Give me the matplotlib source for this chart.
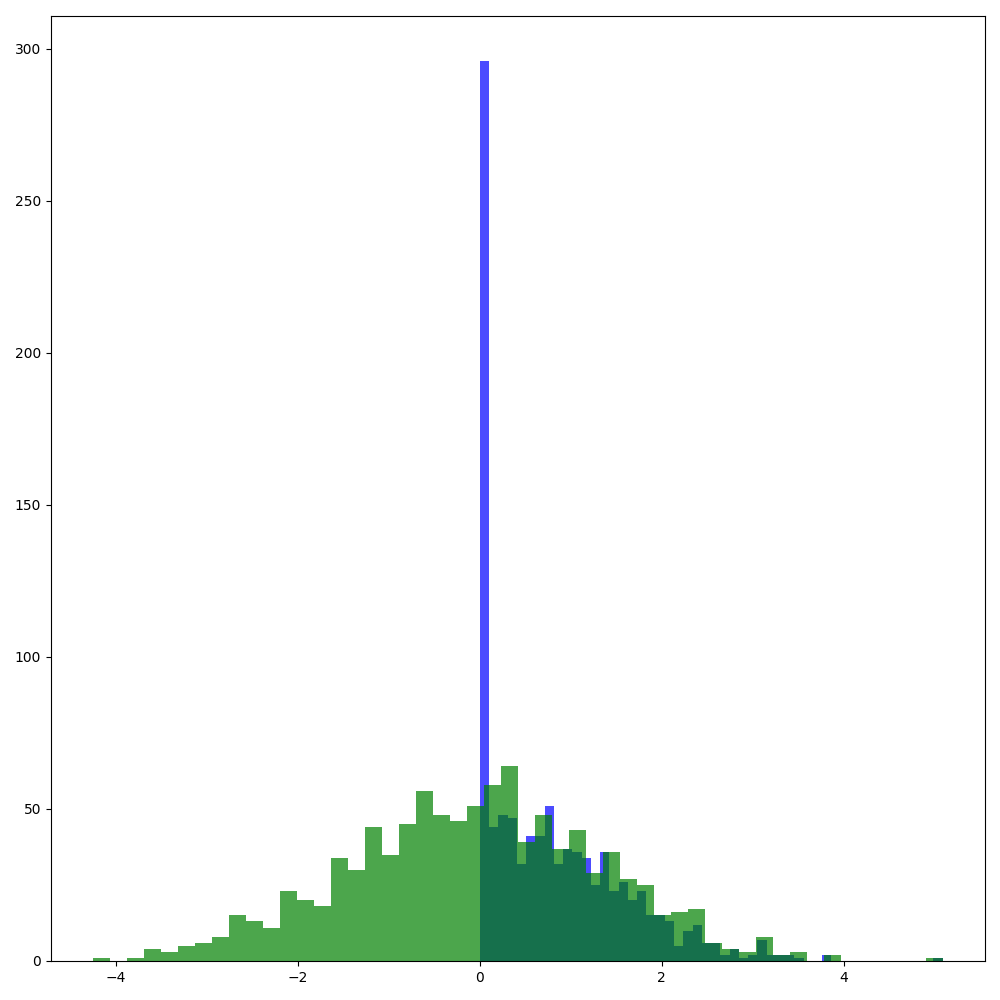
import matplotlib
matplotlib.use("Agg")
import matplotlib.pyplot as plt
import numpy as np

# bin counts (50 bins each)
green_lo, green_hi = -4.245, 5.085
green_counts = [1, 0, 1, 4, 3, 5, 6, 8, 15, 13,
                11, 23, 20, 18, 34, 30, 44, 35, 45, 56,
                48, 46, 51, 58, 64, 39, 48, 37, 43, 29,
                36, 27, 25, 15, 16, 17, 6, 4, 3, 8,
                2, 3, 0, 2, 0, 0, 0, 0, 0, 1]

blue_lo, blue_hi = 0.0, 5.085
blue_counts = [296, 44, 48, 47, 32, 41, 41, 51, 32, 37,
               36, 34, 25, 36, 23, 26, 20, 23, 15, 15,
               13, 5, 10, 12, 6, 6, 2, 4, 1, 2,
               7, 2, 2, 2, 1, 0, 0, 2, 0, 0,
               0, 0, 0, 0, 0, 0, 0, 0, 0, 1]

green_edges = np.linspace(green_lo, green_hi, len(green_counts) + 1)
blue_edges = np.linspace(blue_lo, blue_hi, len(blue_counts) + 1)

fig, ax = plt.subplots(figsize=(10, 10), dpi=100)

ax.hist(blue_edges[:-1], bins=blue_edges, weights=blue_counts, color='blue', alpha=0.7)
ax.hist(green_edges[:-1], bins=green_edges, weights=green_counts, color='green', alpha=0.7)

fig.subplots_adjust(left=0.051, right=0.985, bottom=0.039, top=0.984)
fig.savefig("out.png", dpi=100)
